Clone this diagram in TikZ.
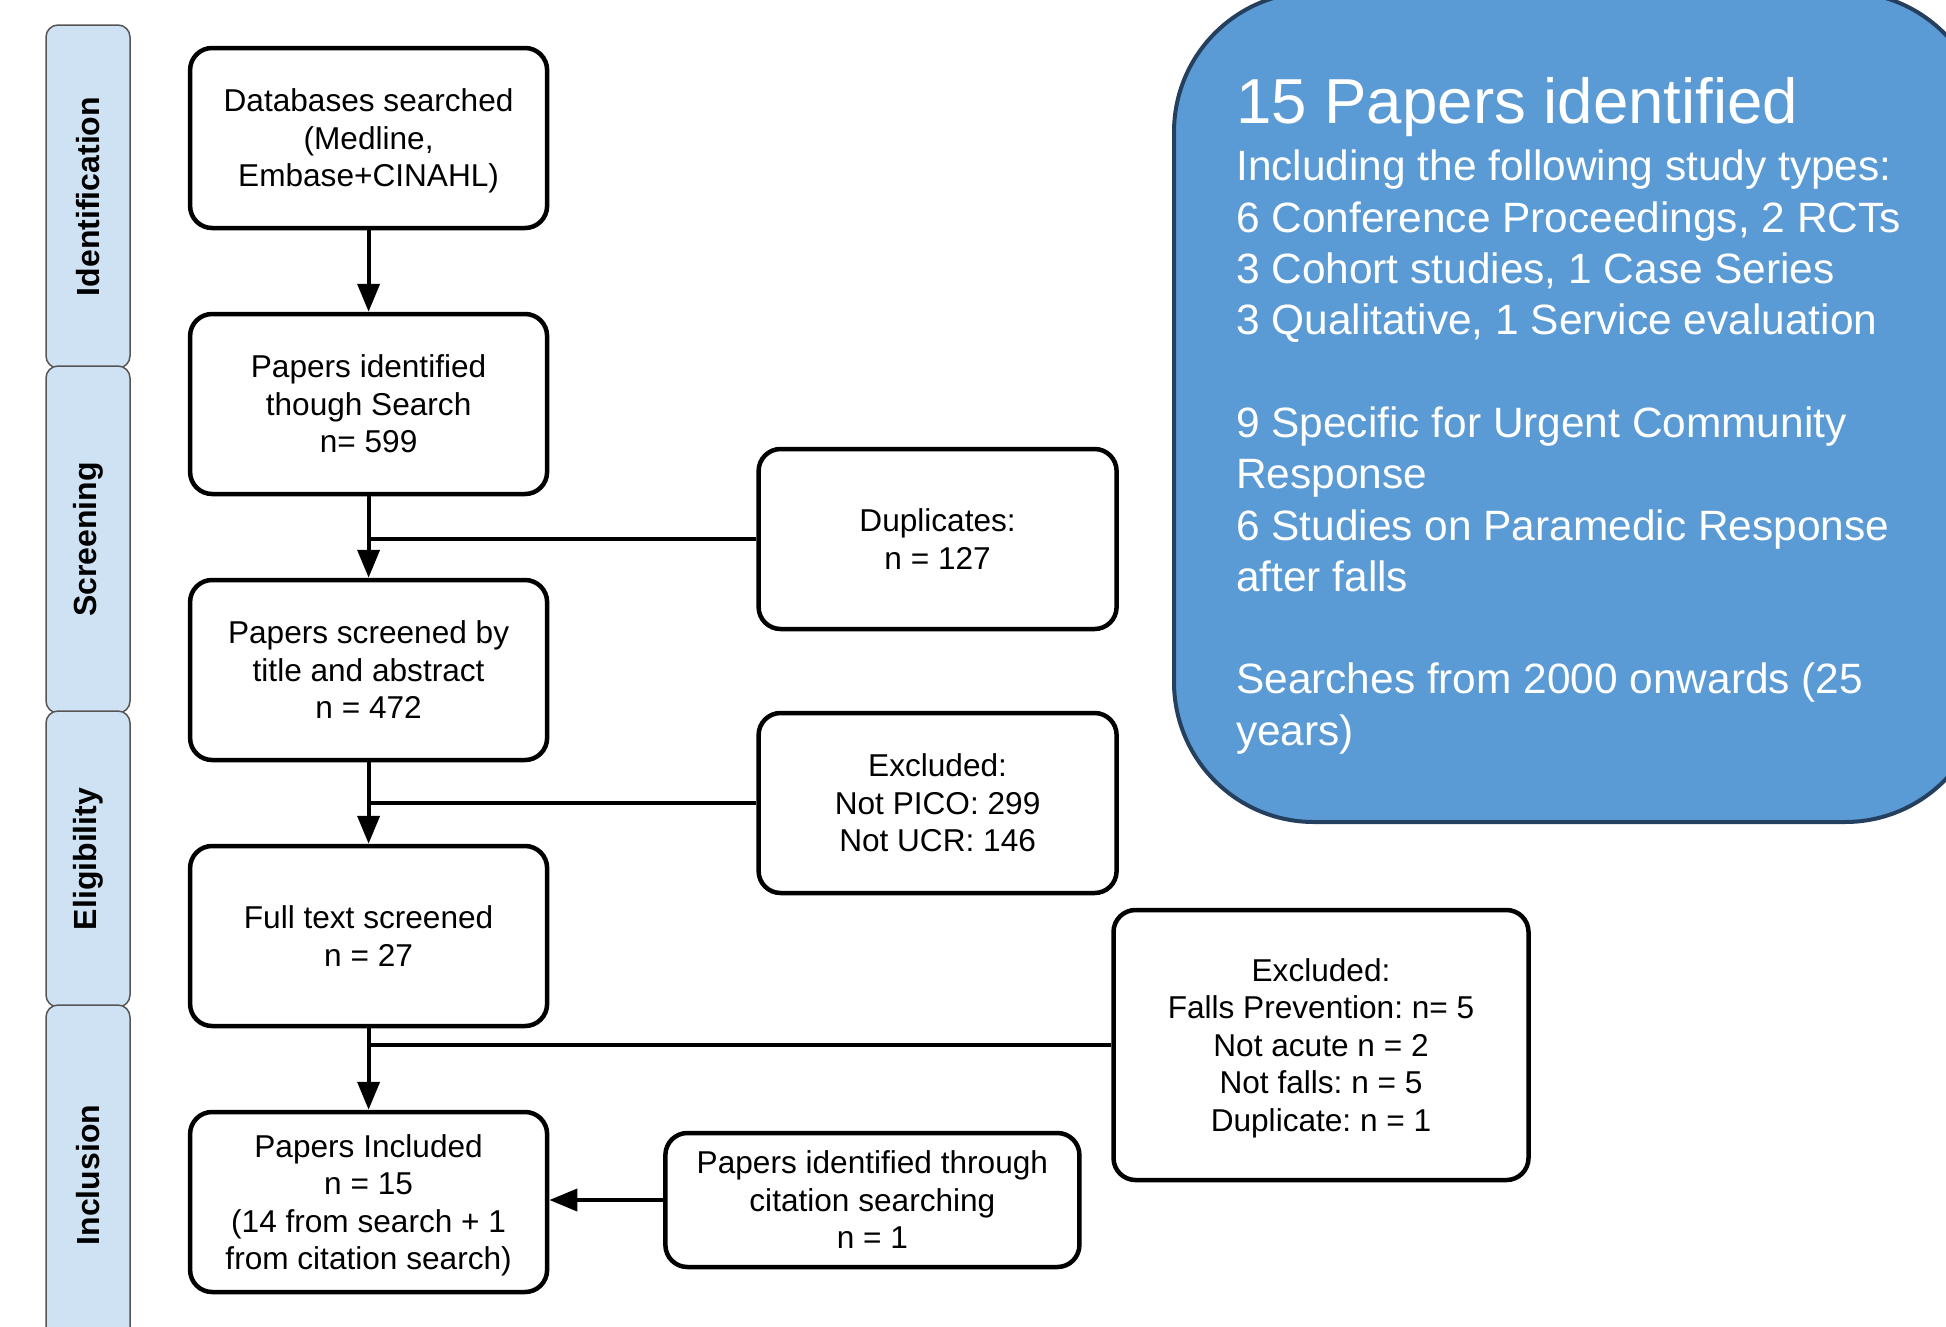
\documentclass[tikz,border=0pt]{standalone}
\usepackage{fontspec}
\setmainfont{Liberation Sans}
\usepackage{tikz}
\usetikzlibrary{calc}
\usetikzlibrary{arrows.meta}
\usetikzlibrary{positioning}
\definecolor{tabblue}{HTML}{CFE2F3}
\definecolor{tabline}{HTML}{555555}
\definecolor{panelblue}{HTML}{5B9BD5}
\definecolor{panelline}{HTML}{24405E}
\frenchspacing

\begin{document}
\begin{tikzpicture}[x=1pt,y=-1pt]
  % some styles
  \tikzset{
    stagebox/.style={
      rectangle,
      rounded corners=22pt,
      draw=black,
      line width=4.5pt,
      fill=white,
      minimum width=357pt,
      minimum height=180pt,
      inner sep=0pt,
      text depth=0pt,
      align=center,
      font=\fontsize{31.6}{37.5}\selectfont
    }
  }
 \tikzset{phasetab/.style={rectangle,rounded corners=12pt,draw=tabline,line width=1.5pt,fill=tabblue,minimum height=84pt,inner sep=0pt,font=\fontsize{32}{38}\selectfont\bfseries}}
 \tikzset{flow/.style={line width=4pt,-{Triangle[length=28pt,width=22pt]}}}
 \tikzset{link/.style={line width=4pt}}
 \tikzset{panel/.style={rectangle,rounded corners=140pt,draw=panelline,line width=4pt,fill=panelblue,minimum width=811pt,minimum height=830pt}}

\clip (0,0) rectangle (1946,1326);

% phase tabs down the left side
\foreach \ya/\yb/\phase [count=\k] in {25/368/Identification,366/713/Screening,711/1007/Eligibility,1005/1345/Inclusion} {
    \node[phasetab,rotate=90,minimum width={\yb-\ya}] (tab\k) at (88,{(\ya+\yb)/2}) {\phase};
  }

% main flow
\node[stagebox] (search) at (368.6,138) {Databases searched\\(Medline,\\Embase+CINAHL)};
\node[stagebox,below=81.5pt of search] (identified) {Papers identified\\though Search\\n= 599};
\node[stagebox,below=81.5pt of identified] (screened) {Papers screened by\\title and abstract\\n = 472};
\node[stagebox,below=81.5pt of screened] (fulltext) {Full text screened\\n = 27};
\node[stagebox,below=81.5pt of fulltext] (included) {Papers Included\\n = 15\\(14 from search + 1\\from citation search)};

% side boxes
\node[stagebox,minimum width=358pt] (duplicates) at (937.6,539) {Duplicates:\\n = 127};
\node[stagebox,minimum width=358pt] (notpico) at (937.6,803) {Excluded:\\Not PICO: 299\\Not UCR: 146};
\node[stagebox,minimum width=415pt,minimum height=270pt] (notfalls) at (1321,1045) {Excluded:\\Falls Prevention: n= 5\\Not acute n = 2\\Not falls: n = 5\\Duplicate: n = 1};
\node[stagebox,minimum width=414pt,minimum height=134pt] (citation) at (872.4,1200) {Papers identified through\\citation searching\\n = 1};

\draw[flow] (search) -- (identified);
\draw[flow] (identified) -- (screened);
\draw[flow] (screened) -- (fulltext);
\draw[flow] (fulltext) -- (included);
\draw[link] (duplicates.west) -- (duplicates.west -| identified.south);
\draw[link] (notpico.west) -- (notpico.west -| screened.south);
\draw[link] (notfalls.west) -- (notfalls.west -| fulltext.south);
\draw[flow] (citation.west) -- (citation.west -| included.east);

% summary panel
\node[panel] (summary) at (1579.5,407) {};
\node[anchor=base west,text=white,inner sep=0pt,font=\fontsize{63.6}{70}\selectfont] (summaryhead) at (1236,123) {15 Papers identified};
\node[anchor=north west,text=white,inner sep=0pt,align=left,font=\fontsize{42.4}{51.3}\selectfont] (summarybody) at (1236,150) {Including the following study types:\\6 Conference Proceedings, 2 RCTs\\3 Cohort studies, 1 Case Series\\3 Qualitative, 1 Service evaluation\\[51.3pt]9 Specific for Urgent Community\\Response\\6 Studies on Paramedic Response\\after falls\\[51.3pt]Searches from 2000 onwards (25\\years)};

\end{tikzpicture}
\end{document}
